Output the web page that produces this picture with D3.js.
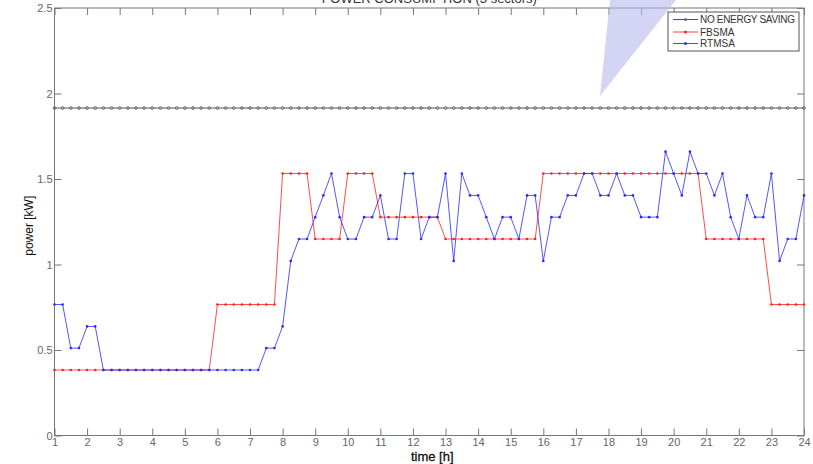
<!DOCTYPE html>
<html>
<head>
<meta charset="utf-8">
<script src="https://cdn.jsdelivr.net/npm/d3@7"></script>
<style>
  body { margin: 0; background: #fff; }
  svg { display: block; font-family: "Liberation Sans", Arial, sans-serif; }
</style>
</head>
<body>
<svg id="chart" width="813" height="464"></svg>
<script>
// time grid, 15 min steps from 1h to 24h
const hours = d3.range(1, 24.001, 0.25);
const xTicks = d3.range(1, 25);
const yTicks = [0, 0.5, 1, 1.5, 2, 2.5];

const noSaving = [
  1.915, 1.915, 1.915, 1.915, 1.915, 1.915, 1.915, 1.915, 1.915, 1.915, 1.915, 1.915,
  1.915, 1.915, 1.915, 1.915, 1.915, 1.915, 1.915, 1.915, 1.915, 1.915, 1.915, 1.915,
  1.915, 1.915, 1.915, 1.915, 1.915, 1.915, 1.915, 1.915, 1.915, 1.915, 1.915, 1.915,
  1.915, 1.915, 1.915, 1.915, 1.915, 1.915, 1.915, 1.915, 1.915, 1.915, 1.915, 1.915,
  1.915, 1.915, 1.915, 1.915, 1.915, 1.915, 1.915, 1.915, 1.915, 1.915, 1.915, 1.915,
  1.915, 1.915, 1.915, 1.915, 1.915, 1.915, 1.915, 1.915, 1.915, 1.915, 1.915, 1.915,
  1.915, 1.915, 1.915, 1.915, 1.915, 1.915, 1.915, 1.915, 1.915, 1.915, 1.915, 1.915,
  1.915, 1.915, 1.915, 1.915, 1.915, 1.915, 1.915, 1.915, 1.915
];

const fbsma = [
  0.383, 0.383, 0.383, 0.383, 0.383, 0.383, 0.383, 0.383, 0.383, 0.383, 0.383, 0.383,
  0.383, 0.383, 0.383, 0.383, 0.383, 0.383, 0.383, 0.383, 0.766, 0.766, 0.766, 0.766,
  0.766, 0.766, 0.766, 0.766, 1.532, 1.532, 1.532, 1.532, 1.149, 1.149, 1.149, 1.149,
  1.532, 1.532, 1.532, 1.532, 1.277, 1.277, 1.277, 1.277, 1.277, 1.277, 1.277, 1.277,
  1.149, 1.149, 1.149, 1.149, 1.149, 1.149, 1.149, 1.149, 1.149, 1.149, 1.149, 1.149,
  1.532, 1.532, 1.532, 1.532, 1.532, 1.532, 1.532, 1.532, 1.532, 1.532, 1.532, 1.532,
  1.532, 1.532, 1.532, 1.532, 1.532, 1.532, 1.532, 1.532, 1.149, 1.149, 1.149, 1.149,
  1.149, 1.149, 1.149, 1.149, 0.766, 0.766, 0.766, 0.766, 0.766
];

const rtmsa = [
  0.766, 0.766, 0.511, 0.511, 0.638, 0.638, 0.383, 0.383, 0.383, 0.383, 0.383, 0.383,
  0.383, 0.383, 0.383, 0.383, 0.383, 0.383, 0.383, 0.383, 0.383, 0.383, 0.383, 0.383,
  0.383, 0.383, 0.511, 0.511, 0.638, 1.021, 1.149, 1.149, 1.277, 1.404, 1.532, 1.277,
  1.149, 1.149, 1.277, 1.277, 1.404, 1.149, 1.149, 1.532, 1.532, 1.149, 1.277, 1.277,
  1.532, 1.021, 1.532, 1.404, 1.404, 1.277, 1.149, 1.277, 1.277, 1.149, 1.404, 1.404,
  1.021, 1.277, 1.277, 1.404, 1.404, 1.532, 1.532, 1.404, 1.404, 1.532, 1.404, 1.404,
  1.277, 1.277, 1.277, 1.660, 1.532, 1.404, 1.660, 1.532, 1.532, 1.404, 1.532, 1.277,
  1.149, 1.404, 1.277, 1.277, 1.532, 1.021, 1.149, 1.149, 1.404
];

const seriesNames = ['NO ENERGY SAVING', 'FBSMA', 'RTMSA'];
const seriesColors = ['#333333', '#ff2020', '#2a2aff'];
const seriesValues = [noSaving, fbsma, rtmsa];

const svg = d3.select('#chart');
const margin = {left: 54.5, right: 9, top: 8, bottom: 28.5};
const width = 813, height = 464;

const x = d3.scaleLinear().domain([1, 24]).range([margin.left, width - margin.right]);
const y = d3.scaleLinear().domain([0, 2.5]).range([height - margin.bottom, margin.top]);

const axisColor = '#777';
const tickLen = 7;

// plot frame
svg.append('rect')
  .attr('x', x(1)).attr('y', y(2.5))
  .attr('width', x(24) - x(1)).attr('height', y(0) - y(2.5))
  .attr('fill', 'none').attr('stroke', axisColor).attr('stroke-width', 1);

// title (cut off at the top like the original)
svg.append('text')
  .attr('x', (x(1) + x(24)) / 2).attr('y', 3)
  .attr('text-anchor', 'middle')
  .attr('font-size', 13).attr('fill', '#333')
  .text('POWER CONSUMPTION (3 sectors)');

// axes with inward ticks
svg.append('g')
  .attr('transform', `translate(0,${y(0)})`)
  .call(d3.axisBottom(x).tickValues(xTicks).tickSize(-tickLen).tickPadding(3).tickFormat(d3.format('d')))
  .call(g => g.select('.domain').remove())
  .call(g => g.selectAll('line').attr('stroke', axisColor))
  .call(g => g.selectAll('text').attr('fill', '#666').attr('font-size', 11).attr('font-family', '"Liberation Sans", Arial'));

svg.append('g')
  .attr('transform', `translate(0,${y(2.5)})`)
  .call(d3.axisTop(x).tickValues(xTicks).tickSize(-tickLen).tickFormat(''))
  .call(g => g.select('.domain').remove())
  .call(g => g.selectAll('line').attr('stroke', axisColor));

svg.append('g')
  .attr('transform', `translate(${x(1)},0)`)
  .call(d3.axisLeft(y).tickValues(yTicks).tickSize(-tickLen).tickFormat(d => d))
  .call(g => g.select('.domain').remove())
  .call(g => g.selectAll('line').attr('stroke', axisColor))
  .call(g => g.selectAll('text').attr('fill', '#666').attr('font-size', 11).attr('font-family', '"Liberation Sans", Arial').attr('x', -2));

svg.append('g')
  .attr('transform', `translate(${x(24)},0)`)
  .call(d3.axisRight(y).tickValues(yTicks).tickSize(-tickLen).tickFormat(''))
  .call(g => g.select('.domain').remove())
  .call(g => g.selectAll('line').attr('stroke', axisColor));

// axis labels
svg.append('text')
  .attr('x', (x(1) + x(24)) / 2 + 3).attr('y', 461)
  .attr('text-anchor', 'middle').attr('font-size', 13).attr('fill', '#111')
  .attr('stroke', '#111').attr('stroke-width', 0.3)
  .text('time [h]');

svg.append('text')
  .attr('transform', `translate(33,${(y(0) + y(2.5)) / 2 + 4}) rotate(-90)`)
  .attr('text-anchor', 'middle').attr('font-size', 12).attr('fill', '#111')
  .text('power [kW]');

// series lines and markers
const line = d3.line().x((d, i) => x(hours[i])).y(d => y(d));

seriesValues.forEach((vals, s) => {
  svg.append('path')
    .datum(vals)
    .attr('fill', 'none')
    .attr('stroke', seriesColors[s])
    .attr('stroke-width', 1)
    .attr('opacity', s === 0 ? 0.85 : 0.8)
    .attr('d', line);

  svg.append('g').selectAll('circle')
    .data(vals)
    .enter()
    .append('circle')
    .attr('cx', (d, i) => x(hours[i]))
    .attr('cy', d => y(d))
    .attr('r', s === 0 ? 1.4 : 1.3)
    .attr('fill', s === 0 ? 'none' : seriesColors[s])
    .attr('stroke', s === 0 ? '#666' : 'none')
    .attr('stroke-width', 0.9);
});

// translucent callout triangle
svg.append('path')
  .attr('d', 'M610,0 L676,0 L600,96 Z')
  .attr('fill', '#b8b8ec')
  .attr('opacity', 0.6);

// legend
const lg = svg.append('g').attr('transform', 'translate(668,12)');
lg.append('rect')
  .attr('width', 131).attr('height', 39)
  .attr('fill', '#fff').attr('stroke', '#555').attr('stroke-width', 1);

const legendRows = [7.5, 20, 31.5];
seriesNames.forEach((name, s) => {
  const ly = legendRows[s];
  lg.append('line')
    .attr('x1', 5).attr('x2', 30).attr('y1', ly).attr('y2', ly)
    .attr('stroke', seriesColors[s]).attr('stroke-width', 1).attr('opacity', 0.85);
  lg.append('circle')
    .attr('cx', 17.5).attr('cy', ly).attr('r', 1.5)
    .attr('fill', s === 0 ? '#666' : seriesColors[s]);
  lg.append('text')
    .attr('x', 32).attr('y', ly + 3.5)
    .attr('font-size', 10).attr('fill', '#333')
    .attr('textLength', s === 0 ? 95 : null)
    .text(name);
});
</script>
</body>
</html>
